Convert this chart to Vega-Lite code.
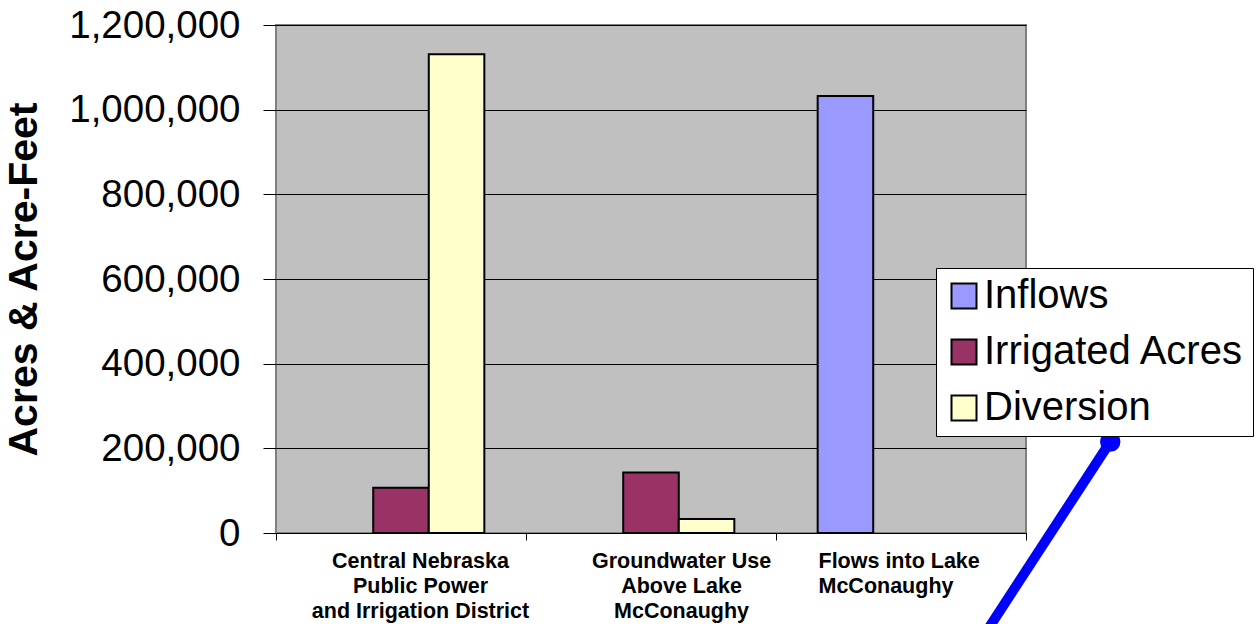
{
  "$schema": "https://vega.github.io/schema/vega-lite/v6.json",
  "description": "Acres and acre-feet: CNPPID, groundwater use and flows into Lake McConaughy",
  "autosize": {"type": "none"},
  "padding": {"left": 276, "top": 25, "right": 231, "bottom": 91},
  "width": 750,
  "height": 508,
  "datasets": {
    "bars": [
      {"category": "Central Nebraska Public Power and Irrigation District", "series": "Irrigated Acres", "value": 107000},
      {"category": "Central Nebraska Public Power and Irrigation District", "series": "Diversion", "value": 1131000},
      {"category": "Groundwater Use Above Lake McConaughy", "series": "Irrigated Acres", "value": 143000},
      {"category": "Groundwater Use Above Lake McConaughy", "series": "Diversion", "value": 33000},
      {"category": "Flows into Lake McConaughy", "series": "Inflows", "value": 1032000}
    ],
    "pointer": [
      {"ax": 3.337, "ay": 215700, "end": "head"},
      {"ax": 2.663, "ay": -394500, "end": "tail"}
    ]
  },
  "layer": [
    {
      "data": {"name": "bars"},
      "mark": {"type": "bar", "stroke": "#000000", "strokeWidth": 2},
      "encoding": {
        "x": {
          "field": "category",
          "type": "nominal",
          "sort": null,
          "scale": {"paddingInner": 0, "paddingOuter": 0},
          "axis": {
            "title": null,
            "tickBand": "extent",
            "tickSize": 7,
            "tickColor": "#000000",
            "domainColor": "#000000",
            "domainWidth": 1,
            "labelAngle": 0,
            "labelFontSize": 21.5,
            "labelFontWeight": "bold",
            "labelLineHeight": 25,
            "labelPadding": 10,
            "labelBaseline": "top",
            "labelOverlap": false,
            "labelBound": false,
            "labelFlush": false,
            "labelLimit": 0,
            "labelAlign": {"expr": "datum.value == 'Flows into Lake McConaughy' ? 'left' : 'center'"},
            "labelOffset": {"expr": "datum.value == 'Central Nebraska Public Power and Irrigation District' ? 19 : datum.value == 'Groundwater Use Above Lake McConaughy' ? 30 : -83"},
            "labelExpr": "datum.value == 'Central Nebraska Public Power and Irrigation District' ? ['Central Nebraska', 'Public Power', 'and Irrigation District'] : datum.value == 'Groundwater Use Above Lake McConaughy' ? ['Groundwater Use', 'Above Lake', 'McConaughy'] : datum.value == 'Flows into Lake McConaughy' ? ['Flows into Lake', 'McConaughy'] : ''"
          }
        },
        "xOffset": {
          "field": "series",
          "type": "nominal",
          "scale": {"domain": ["Inflows", "Irrigated Acres", "Diversion"], "paddingInner": 0, "paddingOuter": 0.75}
        },
        "y": {
          "field": "value",
          "type": "quantitative",
          "scale": {"domain": [0, 1200000], "nice": false},
          "axis": {
            "title": "Acres & Acre-Feet",
            "titleFontSize": 41,
            "titleFontWeight": "bold",
            "titlePadding": 31,
            "values": [0, 200000, 400000, 600000, 800000, 1000000, 1200000],
            "format": ",d",
            "labelFontSize": 38.5,
            "labelPadding": 23,
            "tickSize": 13,
            "tickColor": "#000000",
            "domain": false,
            "grid": true,
            "gridColor": "#000000",
            "gridWidth": 1
          }
        },
        "color": {
          "field": "series",
          "type": "nominal",
          "scale": {"domain": ["Inflows", "Irrigated Acres", "Diversion"], "range": ["#9999FF", "#993366", "#FFFFCC"]},
          "legend": {
            "title": null,
            "orient": "none",
            "legendX": 660,
            "legendY": 243,
            "fillColor": "#FFFFFF",
            "strokeColor": "#000000",
            "padding": 8,
            "labelFontSize": 40,
            "labelColor": "#000000",
            "labelOffset": 0,
            "labelLimit": 0,
            "rowPadding": 16,
            "symbolType": "square",
            "symbolSize": 625,
            "symbolStrokeColor": "#000000",
            "symbolStrokeWidth": 2,
            "zindex": 1
          }
        }
      }
    },
    {
      "data": {"name": "pointer"},
      "mark": {"type": "line", "color": "#0000FF", "strokeWidth": 10, "clip": false},
      "encoding": {
        "x": {"field": "ax", "type": "quantitative", "scale": {"domain": [0, 3], "nice": false, "zero": false}, "axis": null},
        "y": {"field": "ay", "type": "quantitative", "scale": {"domain": [0, 1200000], "nice": false}}
      }
    },
    {
      "data": {"name": "pointer"},
      "transform": [{"filter": "datum.end == 'head'"}],
      "mark": {"type": "point", "shape": "circle", "filled": true, "color": "#0000FF", "size": 415, "opacity": 1, "clip": false},
      "encoding": {
        "x": {"field": "ax", "type": "quantitative", "scale": {"domain": [0, 3], "nice": false, "zero": false}, "axis": null},
        "y": {"field": "ay", "type": "quantitative", "scale": {"domain": [0, 1200000], "nice": false}}
      }
    }
  ],
  "resolve": {"scale": {"x": "independent"}, "axis": {"x": "independent"}},
  "config": {
    "font": "Liberation Sans",
    "background": "#FFFFFF",
    "view": {"fill": "#C0C0C0", "stroke": "#808080", "strokeWidth": 2},
    "axis": {"labelColor": "#000000", "titleColor": "#000000"},
    "legend": {"labelFont": "Liberation Sans"}
  }
}
